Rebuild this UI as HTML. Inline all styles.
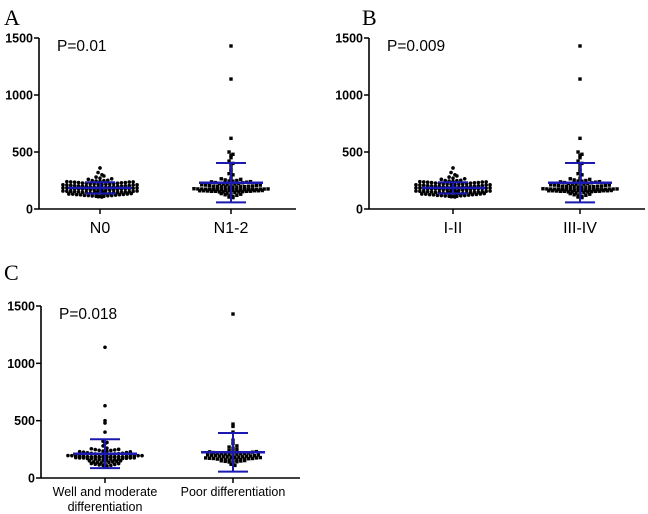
<!DOCTYPE html>
<html><head><meta charset="utf-8"><style>
html,body{margin:0;padding:0;background:#fff;}
svg{display:block;font-family:"Liberation Sans",Arial,sans-serif;}
</style></head><body>
<svg id="fig" width="648" height="514" viewBox="0 0 648 514">
<text x="4" y="25" font-family="Liberation Serif,serif" font-size="22">A</text>
<text x="362" y="25" font-family="Liberation Serif,serif" font-size="22">B</text>
<text x="4" y="280" font-family="Liberation Serif,serif" font-size="22">C</text>
</svg>
<script>
const yTicks = [0, 500, 1000, 1500];
const lowGroup = [105,108,110,112,115,118,120,122,125,128,130,132,135,138,140,142,145,148,150,152,
 155,158,160,162,165,168,170,172,175,178,180,182,185,188,190,192,195,198,200,202,
 205,208,210,212,215,218,220,222,225,228,230,232,235,238,240,242,245,248,250,252,
 140,145,150,160,170,180,190,200,210,220,165,175,185,195,155,
 112,118,124,132,138,146,152,158,164,172,178,186,192,198,204,212,218,224,232,238,
 116,126,136,144,156,168,176,184,196,206,214,226,236,
 260,265,270,280,290,300,320,360];
const highGroup = [100,105,110,115,120,125,130,135,140,145,150,155,160,165,170,175,180,185,190,195,
 150,155,160,165,170,175,180,185,190,195,200,205,210,215,220,225,230,235,240,245,
 160,165,170,175,180,200,210,220,250,255,260,265,270,140,150,160,170,180,
 155,158,162,166,168,172,174,176,178,182,184,186,188,192,194,196,198,202,
 152,156,164,168,172,176,184,188,206,212,218,224,232,238,244,
 300,310,330,350,380,400,420,450,470,480,500,620,1140,1430];
const wellGroup = [100,105,110,115,120,125,130,135,140,145,150,155,160,165,170,175,180,185,190,195,
 150,155,160,165,170,175,180,185,190,195,200,205,210,215,220,225,230,235,240,245,
 170,175,180,185,190,195,200,205,210,215,250,255,260,140,160,180,200,
 172,176,178,182,184,186,188,192,194,196,198,202,204,206,208,212,
 110,118,126,132,138,222,228,234,242,248,
 280,300,310,320,400,480,500,630,1140];
const poorGroup = [110,120,130,140,150,155,160,165,170,175,180,185,190,195,
 160,170,180,190,200,205,210,215,220,225,230,235,240,
 142,148,152,158,162,168,172,178,182,188,192,198,202,208,212,218,
 145,155,165,175,185,195,205,215,222,228,
 250,260,270,280,300,330,400,450,470,1430];
const panelA = {cats:['N0','N1-2'], groups:[lowGroup, highGroup], p:'P=0.01'};
const panelB = {cats:['I-II','III-IV'], groups:[lowGroup, highGroup], p:'P=0.009'};
const panelC = {cats:['Well and moderate|differentiation','Poor differentiation'], groups:[wellGroup, poorGroup], p:'P=0.018'};

const NS='http://www.w3.org/2000/svg';
const svg=document.getElementById('fig');
function mk(tag,attrs,parent){const e=document.createElementNS(NS,tag);for(const k in attrs)e.setAttribute(k,attrs[k]);(parent||svg).appendChild(e);return e;}

function drawPanel(cfg,geo,key){
  const g=mk('g',{});
  
  
  const y=v=>geo.y0-(v/1500)*(geo.y0-geo.y1);
  const ax=mk('line',{x1:geo.ax,y1:geo.y1,x2:geo.ax,y2:geo.y0,stroke:'#000','stroke-width':1.6},g);
  
  
  const xa=mk('line',{x1:geo.ax,y1:geo.y0,x2:geo.xend,y2:geo.y0,stroke:'#000','stroke-width':1.6},g);
  
  
  yTicks.forEach(t=>{
    mk('line',{x1:geo.ax-5,y1:y(t),x2:geo.ax,y2:y(t),stroke:'#000','stroke-width':1.5},g);
    const tx=mk('text',{x:geo.ax-6,y:y(t)+4.5,'text-anchor':'end','font-size':12.5,'font-weight':'bold'},g);
    tx.textContent=t;
    
    
  });
  const pt=mk('text',{x:geo.ax+18,y:geo.y1+13,'font-size':15.5},g);
  pt.textContent=cfg.p;
  
  
  cfg.cats.forEach((c,i)=>{
    const cx=geo.cx[i];
    mk('line',{x1:cx,y1:geo.y0,x2:cx,y2:geo.y0+5,stroke:'#000','stroke-width':1.5},g);
    const lines=c.split('|');
    lines.forEach((l,j)=>{
      const t=mk('text',{x:cx,y:geo.y0+geo.labOff+j*15,'text-anchor':'middle','font-size':geo.labSize},g);
      t.textContent=l;
      
      
    });
    const vals=cfg.groups[i].slice().sort((a,b)=>a-b);
    const ds=3, maxPer=20, rows={};
    vals.forEach(v=>{const r=Math.round(y(v)/ds);(rows[r]=rows[r]||[]).push(v);});
    const sq=i===1;
    for(const r in rows){
      const arr=rows[r];
      arr.forEach((v,k)=>{
        const sub=Math.floor(k/maxPer), kk=k%maxPer;
        const cnt=Math.min(maxPer,arr.length-sub*maxPer);
        const off=(kk%2===0?1:-1)*Math.ceil(kk/2)*3.9 + (cnt%2===0?1.95:0);
        const yy=y(v)+(sub%2===0?-1:1)*Math.ceil(sub/2)*1.8;
        let d;
        if(sq){d=mk('rect',{x:cx+off-1.7,y:yy-1.7,width:3.4,height:3.4,fill:'#000'},g);}
        else{d=mk('circle',{cx:cx+off,cy:yy,r:1.8,fill:'#000'},g);}
        
        
      });
    }
    const n=vals.length, mean=vals.reduce((a,b)=>a+b,0)/n;
    const sd=Math.sqrt(vals.reduce((a,b)=>a+(b-mean)*(b-mean),0)/(n-1));
    const lo=Math.max(mean-sd,0), hi=mean+sd;
    const bl='#1a1ab0';
    const ml=mk('line',{x1:cx-32,y1:y(mean),x2:cx+32,y2:y(mean),stroke:bl,'stroke-width':2.5},g);
    
    
    const eb=mk('path',{d:`M${cx},${y(lo)}V${y(hi)}M${cx-15},${y(hi)}H${cx+15}M${cx-15},${y(lo)}H${cx+15}`,stroke:bl,'stroke-width':2,fill:'none'},g);
    
    
  });
}
drawPanel(panelA,{ax:39,y0:209,y1:38,xend:296,cx:[100,231],labOff:24,labSize:16},'a');
drawPanel(panelB,{ax:369,y0:209,y1:38,xend:645,cx:[453,580],labOff:24,labSize:16},'b');
drawPanel(panelC,{ax:41,y0:478,y1:306,xend:300,cx:[105,233],labOff:18,labSize:12.5},'c');
</script>
</body></html>
